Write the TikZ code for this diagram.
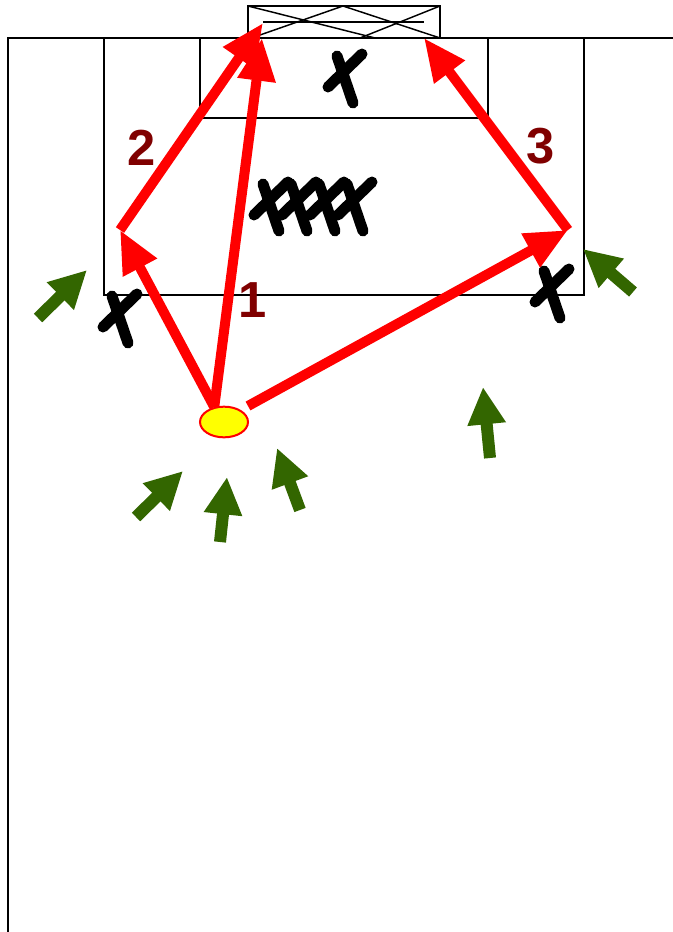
\documentclass[tikz,border=0pt]{standalone}
\usepackage{fontspec}
\setmainfont{Liberation Sans}
\usepackage{tikz}
\usetikzlibrary{arrows.meta, shapes.geometric, backgrounds}

\definecolor{shotred}{RGB}{255,0,0}
\definecolor{numred}{RGB}{128,0,0}
\definecolor{rungreen}{RGB}{51,102,0}
\definecolor{bally}{RGB}{255,255,0}

\begin{document}
\begin{tikzpicture}[x=0.75pt, y=-0.75pt,
  fieldline/.style={draw, line width=1.5pt},
  goalline/.style={draw, line width=1.1pt},
  shot/.style={-{Triangle[length=32pt, width=27pt]}, line width=7.5pt, shotred},
  run/.style={-{Triangle[length=28pt, width=27pt]}, line width=9pt, rungreen},
  num/.style={font=\fontsize{38}{38}\selectfont\bfseries, text=numred, inner sep=0pt},
  ballnode/.style={ellipse, draw=shotred, line width=1.5pt, fill=bally, minimum width=36pt, minimum height=23pt, inner sep=0pt},
  xstroke/.style={line width=8.25pt, line cap=round, black},
  player/.pic={
    \draw[xstroke] (-17,9) -- (17,-24);
    \draw[xstroke] (-8,-22) -- (8,25);
  }
]
\useasboundingbox (0,0) rectangle (673,932);

% Ball and turning points
\node[ballnode] (ball) at (224,422) {};
\coordinate (s3) at (248,406);
\coordinate (p2) at (120,230);
\coordinate (p3) at (568,230);
\coordinate (g1) at (262,38);
\coordinate (g2) at (263,23);
\coordinate (g3) at (424,38);

\begin{scope}[on background layer]
% Pitch
\draw[fieldline] (8,932) -- (8,38) -- (673,38);
\draw[fieldline] (104,38) -- (104,295) -- (584,295) -- (584,38);
\draw[fieldline] (200,38) -- (200,118) -- (488,118) -- (488,38);
% Goal
\draw[goalline] (248,6) rectangle (440,38);
\draw[goalline] (263,22) -- (424,22);
\draw[goalline] (248,6) -- (375,38);
\draw[goalline] (343,6) -- (260,35);
\draw[goalline] (343,6) -- (440,38);
\draw[goalline] (360,38) -- (440,6);

% Shots
\draw[shot] (ball.123) -- (g1);
\draw[shot] (ball.123) -- (p2);
\draw[shot] (p2) -- (g2);
\draw[shot] (s3) -- (p3);
\draw[shot] (p3) -- (g3);
\end{scope}

% Numbers
\node[num] (n1) at (253,300) {1};
\node[num] (n2) at (142,148) {2};
\node[num] (n3) at (541,146) {3};

% Defenders
\pic at (345,78) {player};
\pic at (120,318) {player};
\pic at (552,293) {player};
\foreach \px in {271,299,327,355}
  \pic at (\px,206) {player};

% Runs
\foreach \ax/\ay/\bx/\by in {38/318/87/270, 633/292/583/249, 136/517/183/471,
                              220/542/227/477, 300/510/277/448, 490/458/483/387}
  \draw[run] (\ax,\ay) -- (\bx,\by);

\end{tikzpicture}
\end{document}
